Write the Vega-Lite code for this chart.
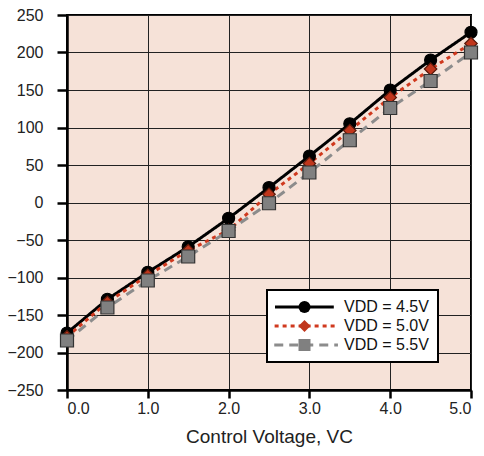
{
  "$schema": "https://vega.github.io/schema/vega-lite/v6.json",
  "width": 404,
  "height": 375,
  "autosize": "none",
  "padding": {"left": 67, "top": 15, "right": 13, "bottom": 66},
  "background": "white",
  "data": {
    "values": [
      {"vc": 0.0, "val": -174, "vdd": "VDD = 4.5V"},
      {"vc": 0.5, "val": -129, "vdd": "VDD = 4.5V"},
      {"vc": 1.0, "val": -93, "vdd": "VDD = 4.5V"},
      {"vc": 1.5, "val": -59, "vdd": "VDD = 4.5V"},
      {"vc": 2.0, "val": -21, "vdd": "VDD = 4.5V"},
      {"vc": 2.5, "val": 20, "vdd": "VDD = 4.5V"},
      {"vc": 3.0, "val": 62, "vdd": "VDD = 4.5V"},
      {"vc": 3.5, "val": 105, "vdd": "VDD = 4.5V"},
      {"vc": 4.0, "val": 150, "vdd": "VDD = 4.5V"},
      {"vc": 4.5, "val": 190, "vdd": "VDD = 4.5V"},
      {"vc": 5.0, "val": 227, "vdd": "VDD = 4.5V"},
      {"vc": 0.0, "val": -179, "vdd": "VDD = 5.0V"},
      {"vc": 0.5, "val": -133, "vdd": "VDD = 5.0V"},
      {"vc": 1.0, "val": -97, "vdd": "VDD = 5.0V"},
      {"vc": 1.5, "val": -64, "vdd": "VDD = 5.0V"},
      {"vc": 2.0, "val": -37, "vdd": "VDD = 5.0V"},
      {"vc": 2.5, "val": 11, "vdd": "VDD = 5.0V"},
      {"vc": 3.0, "val": 52, "vdd": "VDD = 5.0V"},
      {"vc": 3.5, "val": 96, "vdd": "VDD = 5.0V"},
      {"vc": 4.0, "val": 140, "vdd": "VDD = 5.0V"},
      {"vc": 4.5, "val": 178, "vdd": "VDD = 5.0V"},
      {"vc": 5.0, "val": 212, "vdd": "VDD = 5.0V"},
      {"vc": 0.0, "val": -184, "vdd": "VDD = 5.5V"},
      {"vc": 0.5, "val": -140, "vdd": "VDD = 5.5V"},
      {"vc": 1.0, "val": -104, "vdd": "VDD = 5.5V"},
      {"vc": 1.5, "val": -72, "vdd": "VDD = 5.5V"},
      {"vc": 2.0, "val": -38, "vdd": "VDD = 5.5V"},
      {"vc": 2.5, "val": -1, "vdd": "VDD = 5.5V"},
      {"vc": 3.0, "val": 40, "vdd": "VDD = 5.5V"},
      {"vc": 3.5, "val": 83, "vdd": "VDD = 5.5V"},
      {"vc": 4.0, "val": 126, "vdd": "VDD = 5.5V"},
      {"vc": 4.5, "val": 162, "vdd": "VDD = 5.5V"},
      {"vc": 5.0, "val": 200, "vdd": "VDD = 5.5V"}
    ]
  },
  "encoding": {
    "x": {
      "field": "vc",
      "type": "quantitative",
      "scale": {"domain": [0, 5], "nice": false},
      "axis": {"values": [0, 1, 2, 3, 4, 5], "format": ".1f", "title": "Control Voltage, VC"}
    },
    "y": {
      "field": "val",
      "type": "quantitative",
      "scale": {"domain": [-250, 250], "nice": false},
      "axis": {"values": [-250, -200, -150, -100, -50, 0, 50, 100, 150, 200, 250], "title": null}
    }
  },
  "layer": [
    {
      "mark": {"type": "line", "strokeWidth": 3},
      "encoding": {
        "color": {
          "field": "vdd",
          "type": "nominal",
          "scale": {
            "domain": ["VDD = 4.5V", "VDD = 5.0V", "VDD = 5.5V"],
            "range": ["#000000", "#d0391e", "#8c8c8c"]
          },
          "legend": {
            "orient": "none",
            "legendX": 200,
            "legendY": 275,
            "title": null,
            "symbolType": "M-1.5,0L8.3,0",
            "symbolSize": 144,
            "symbolStrokeWidth": 3,
            "labelOffset": 52,
            "labelFont": "Liberation Sans",
            "labelFontSize": 16,
            "labelColor": "#111111",
            "padding": 9,
            "rowPadding": 3,
            "strokeColor": "black",
            "fillColor": "white",
            "encode": {"legend": {"update": {"strokeWidth": {"value": 2}}}}
          }
        },
        "strokeDash": {
          "field": "vdd",
          "type": "nominal",
          "scale": {
            "domain": ["VDD = 4.5V", "VDD = 5.0V", "VDD = 5.5V"],
            "range": [[1, 0], [4, 4], [9, 6]]
          }
        }
      }
    },
    {
      "mark": {"type": "point", "filled": true, "opacity": 1, "strokeWidth": 1.2},
      "encoding": {
        "shape": {
          "field": "vdd",
          "type": "nominal",
          "scale": {
            "domain": ["VDD = 4.5V", "VDD = 5.0V", "VDD = 5.5V"],
            "range": ["circle", "diamond", "square"]
          },
          "legend": {
            "orient": "none",
            "legendX": 220.5,
            "legendY": 275,
            "title": null,
            "symbolSize": 144,
            "symbolStrokeWidth": 1,
            "symbolStrokeColor": "#333333",
            "symbolOpacity": 1,
            "labelExpr": "' '",
            "labelOffset": 52,
            "labelFont": "Liberation Sans",
            "labelFontSize": 16,
            "padding": 9,
            "rowPadding": 3
          }
        },
        "fill": {
          "field": "vdd",
          "type": "nominal",
          "scale": {
            "domain": ["VDD = 4.5V", "VDD = 5.0V", "VDD = 5.5V"],
            "range": ["#000000", "#c0361c", "#808080"]
          }
        },
        "stroke": {
          "field": "vdd",
          "type": "nominal",
          "scale": {
            "domain": ["VDD = 4.5V", "VDD = 5.0V", "VDD = 5.5V"],
            "range": ["#000000", "#5a1a0c", "#333333"]
          },
          "legend": null
        },
        "size": {
          "field": "vdd",
          "type": "nominal",
          "scale": {
            "domain": ["VDD = 4.5V", "VDD = 5.0V", "VDD = 5.5V"],
            "range": [144, 169, 121]
          },
          "legend": null
        }
      }
    }
  ],
  "resolve": {
    "scale": {"shape": "independent", "fill": "independent"},
    "legend": {"shape": "independent", "fill": "independent"}
  },
  "config": {
    "view": {"stroke": "black", "strokeWidth": 2, "fill": "#f6e2d8"},
    "axis": {
      "labelFont": "Liberation Sans",
      "labelFontSize": 16,
      "labelColor": "#222222",
      "domainColor": "black",
      "domainWidth": 2.5,
      "tickColor": "black",
      "tickWidth": 2.5,
      "grid": true,
      "gridColor": "#222222",
      "gridWidth": 1,
      "titleFont": "Liberation Sans",
      "titleFontWeight": "normal",
      "titleColor": "#222222"
    },
    "axisY": {"tickSize": 10, "labelPadding": 14},
    "axisX": {"tickSize": 8, "labelPadding": 2, "titleFontSize": 19, "titlePadding": 11}
  }
}
